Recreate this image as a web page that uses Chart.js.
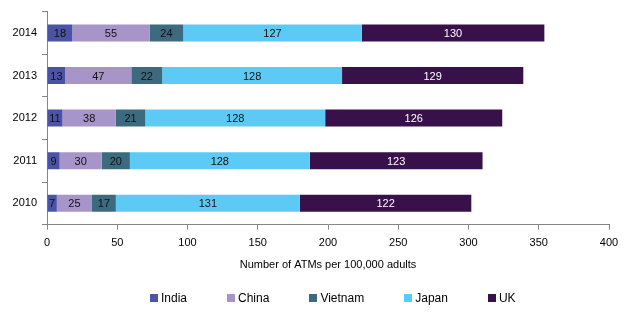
<!DOCTYPE html>
<html lang="en">
<head>
    <meta charset="UTF-8">
    <title>ATMs per 100,000 adults</title>
    <script src="https://cdn.jsdelivr.net/npm/chart.js"></script>
    <style>
        body {
            margin: 0;
            background: #ffffff;
        }
        .chart-box {
            position: relative;
            width: 640px;
            height: 324px;
        }
        .legend {
            position: absolute;
            left: 150px;
            top: 291px;
            display: flex;
            gap: 40px;
            font-family: "Liberation Sans", Arial, sans-serif;
            font-size: 12px;
            color: #000000;
        }
        .legend span {
            display: flex;
            align-items: center;
        }
        .legend i {
            display: inline-block;
            width: 8px;
            height: 8px;
            margin-right: 3px;
        }
    </style>
</head>
<body>
    <div class="chart-box">
        <canvas id="atmChart"></canvas>
        <div id="legend" class="legend"></div>
    </div>

    <script>
        const years = ['2014', '2013', '2012', '2011', '2010'];
        const india = [18, 13, 11, 9, 7];
        const china = [55, 47, 38, 30, 25];
        const vietnam = [24, 22, 21, 20, 17];
        const japan = [127, 128, 128, 128, 131];
        const uk = [130, 129, 126, 123, 122];
        const xTicks = [0, 50, 100, 150, 200, 250, 300, 350, 400];

        const fontFamily = '"Liberation Sans", Arial, sans-serif';

        // writes each value in the middle of its segment
        const segmentLabels = {
            id: 'segmentLabels',
            afterDatasetsDraw(chart) {
                const ctx = chart.ctx;
                ctx.save();
                ctx.font = '11px ' + fontFamily;
                ctx.textAlign = 'center';
                ctx.textBaseline = 'middle';
                chart.data.datasets.forEach((ds, i) => {
                    const meta = chart.getDatasetMeta(i);
                    meta.data.forEach((bar, j) => {
                        const c = bar.getCenterPoint();
                        ctx.fillStyle = ds.labelColor;
                        ctx.fillText(ds.data[j], c.x, c.y + 1);
                    });
                });
                ctx.restore();
            }
        };

        const series = [
            { label: 'India', data: india, backgroundColor: '#4B53A7', labelColor: '#111111' },
            { label: 'China', data: china, backgroundColor: '#A794C8', labelColor: '#111111' },
            { label: 'Vietnam', data: vietnam, backgroundColor: '#3C6A7F', labelColor: '#111111' },
            { label: 'Japan', data: japan, backgroundColor: '#5CCAF5', labelColor: '#111111' },
            { label: 'UK', data: uk, backgroundColor: '#38114A', labelColor: '#ffffff' }
        ];

        const chart = new Chart(document.getElementById('atmChart'), {
            type: 'bar',
            data: {
                labels: years,
                datasets: series.map(s => Object.assign({
                    borderWidth: 0,
                    barPercentage: 0.8,
                    categoryPercentage: 0.5
                }, s))
            },
            options: {
                indexAxis: 'y',
                responsive: true,
                maintainAspectRatio: false,
                animation: false,
                layout: {
                    padding: { left: 0, right: 31, top: 10, bottom: 48 }
                },
                scales: {
                    x: {
                        stacked: true,
                        min: 0,
                        max: 400,
                        afterBuildTicks: scale => {
                            scale.ticks = xTicks.map(v => ({ value: v }));
                        },
                        grid: {
                            drawOnChartArea: false,
                            drawTicks: true,
                            tickLength: 5,
                            color: '#868686'
                        },
                        border: { color: '#868686' },
                        ticks: {
                            color: '#000000',
                            font: { family: fontFamily, size: 11 },
                            padding: 7,
                            maxRotation: 0
                        },
                        title: {
                            display: true,
                            text: 'Number of ATMs per 100,000 adults',
                            color: '#000000',
                            font: { family: fontFamily, size: 11 },
                            padding: { top: 2, bottom: 4 }
                        }
                    },
                    y: {
                        stacked: true,
                        afterFit: scale => {
                            scale.width = 47;
                        },
                        grid: {
                            drawOnChartArea: false,
                            offset: true,
                            tickLength: 5,
                            color: '#868686'
                        },
                        border: { color: '#868686' },
                        ticks: {
                            color: '#000000',
                            font: { family: fontFamily, size: 11 },
                            padding: 5
                        }
                    }
                },
                plugins: {
                    legend: { display: false },
                    tooltip: { enabled: false }
                }
            },
            plugins: [segmentLabels]
        });

        // legend built from the chart's datasets
        const legendBox = document.getElementById('legend');
        chart.data.datasets.forEach(ds => {
            const item = document.createElement('span');
            const swatch = document.createElement('i');
            swatch.style.background = ds.backgroundColor;
            item.appendChild(swatch);
            item.appendChild(document.createTextNode(ds.label));
            legendBox.appendChild(item);
        });
    </script>
</body>
</html>
